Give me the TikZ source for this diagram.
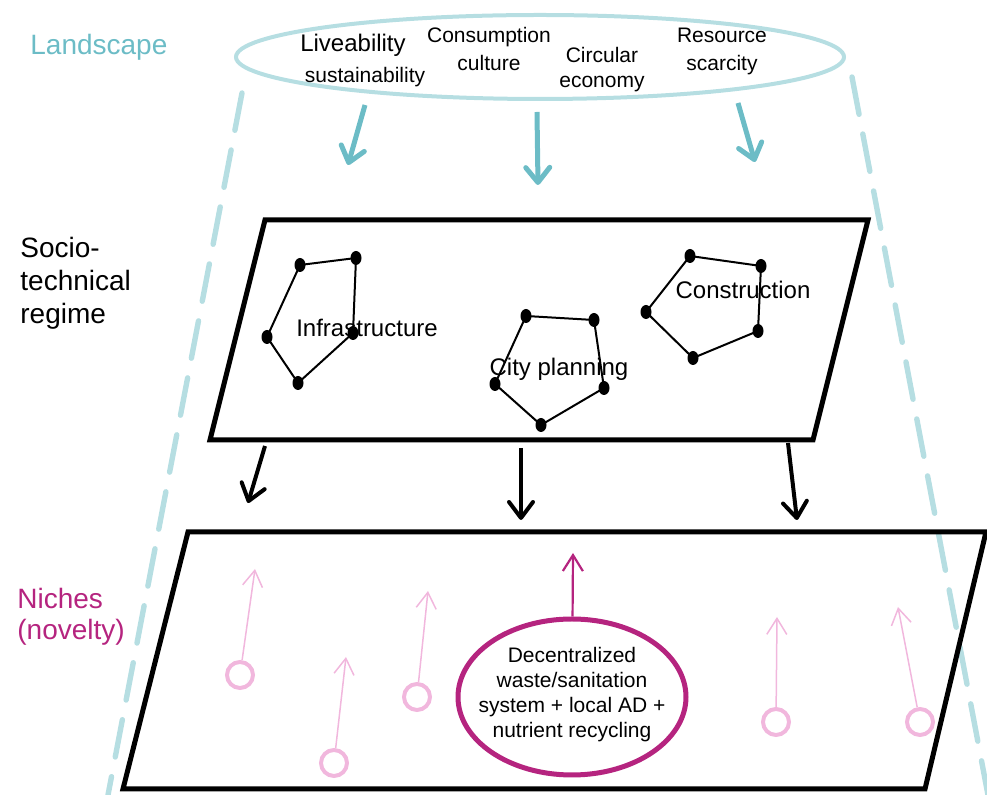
\documentclass[tikz,border=0pt]{standalone}
\usepackage{fontspec}
\setmainfont{Liberation Sans}
\usepackage{tikz}
\usetikzlibrary{arrows.meta, shapes.geometric}
\definecolor{Teal}     {HTML}{6CBCC6}
\definecolor{TealPale} {HTML}{B6DEE2}
\definecolor{Magenta}  {HTML}{B5247F}
\definecolor{Pink}     {HTML}{F1B7DD}

\begin{document}
\begin{tikzpicture}[x=0.5pt, y=-0.5pt,
  every node/.style={inner sep=0pt},
  plane/.style={line width=2.5pt, line join=miter},
  guide/.style={TealPale, line width=2.7pt, line cap=round,
                dash pattern=on 19pt off 10pt},
  down/.style={Teal, line width=2.5pt,
               -{Straight Barb[length=7.5pt, width=12pt, round]}},
  push/.style={line width=2pt,
               -{Straight Barb[length=8pt, width=12pt, round]}},
  rise/.style={Pink, line width=0.75pt,
               -{Straight Barb[length=8pt, width=10pt]}},
  vertex/.style={ellipse, fill, minimum width=5.5pt, minimum height=7pt},
  link/.style={line width=1pt},
  seed/.style={circle, draw=Pink, line width=2pt, minimum size=13pt},
  factor/.style={font=\fontsize{10.5}{14}\selectfont, align=center},
  actor/.style={font=\fontsize{12}{14}\selectfont},
  tier/.style={font=\fontsize{14}{16.5}\selectfont, align=left, anchor=west}]
  \useasboundingbox (0,0) rectangle (987,795);

  % Landscape: dashed guides and the ellipse of pressures
  \draw[guide] (242,93) -- (108,795);
  \draw[guide] (852,77) -- (988,795);
  \node[tier, text=Teal] (landscape) at (30,47) {Landscape};
  \node[ellipse, draw=TealPale, line width=2pt,
        minimum width=304pt, minimum height=42pt] (scape) at (540,57) {};
  \node[actor] (live) at (353,45) {Liveability};
  \node[factor] (sust) at (365,77) {sustainability};
  \node[factor] (cons) at (489,49) {Consumption\\culture};
  \node[factor, font=\fontsize{10.5}{12.5}\selectfont] (circ) at (602,70) {Circular\\economy};
  \node[factor] (res) at (722,51) {Resource\\scarcity};
  \coordinate (t1) at (365,105); \coordinate (h1) at (348,165);
  \coordinate (t2) at (537,112); \coordinate (h2) at (538,185);
  \coordinate (t3) at (738,103); \coordinate (h3) at (755,162);
  \draw[down] (t1) -- (h1);
  \draw[down] (t2) -- (h2);
  \draw[down] (t3) -- (h3);

  % Socio-technical regime
  \draw[plane] (265,220) -- (868,220) -- (813,440) -- (210,440) -- cycle;
  \node[tier] (regime) at (20,283) {Socio-\\technical\\regime};
  \node[vertex] (i1) at (300,265) {};
  \node[vertex] (i2) at (356,258) {};
  \node[vertex] (i3) at (353,333) {};
  \node[vertex] (i4) at (298,383) {};
  \node[vertex] (i5) at (267,337) {};
  \draw[link] (i1.center) -- (i2.center) -- (i3.center) -- (i4.center) -- (i5.center) -- cycle;
  \node[vertex] (c1) at (526,316) {};
  \node[vertex] (c2) at (594,320) {};
  \node[vertex] (c3) at (604,388) {};
  \node[vertex] (c4) at (541,425) {};
  \node[vertex] (c5) at (495,384) {};
  \draw[link] (c1.center) -- (c2.center) -- (c3.center) -- (c4.center) -- (c5.center) -- cycle;
  \node[vertex] (k1) at (690,256) {};
  \node[vertex] (k2) at (761,266) {};
  \node[vertex] (k3) at (758,331) {};
  \node[vertex] (k4) at (693,358) {};
  \node[vertex] (k5) at (646,312) {};
  \draw[link] (k1.center) -- (k2.center) -- (k3.center) -- (k4.center) -- (k5.center) -- cycle;
  \node[actor] (infra) at (367,328) {Infrastructure};
  \node[actor] (city) at (559,369) {City planning};
  \node[actor] (constr) at (743,290) {Construction};
  \coordinate (r1) at (265,446); \coordinate (n1) at (248,503);
  \coordinate (r2) at (521,448); \coordinate (n2) at (521,520);
  \coordinate (r3) at (788,443); \coordinate (n3) at (797,520);
  \draw[push] (r1) -- (n1);
  \draw[push] (r2) -- (n2);
  \draw[push] (r3) -- (n3);

  % Niches
  \draw[plane] (188,532) -- (986,532) -- (925,789) -- (123,789) -- cycle;
  \node[tier, text=Magenta, font=\fontsize{14}{15.5}\selectfont] (niche) at (17,617) {Niches\\(novelty)};
  \node[ellipse, draw=Magenta, line width=2.5pt,
        minimum width=114pt, minimum height=78pt] (waste) at (572,697) {};
  \node[factor, font=\fontsize{10.5}{12.5}\selectfont] (wastetext) at (572,695)
        {Decentralized\\waste/sanitation\\system + local AD +\\nutrient recycling};
  \coordinate (wtip) at (573,553);
  \draw[Magenta, line width=1.1pt, -{Straight Barb[length=8pt, width=10pt]}] (waste) -- (wtip);
  \node[seed] (s1) at (240,675) {}; \coordinate (s1tip) at (255,569);
  \node[seed] (s2) at (334,763) {}; \coordinate (s2tip) at (346,657);
  \node[seed] (s3) at (417,697) {}; \coordinate (s3tip) at (428,591);
  \node[seed] (s4) at (776,722) {}; \coordinate (s4tip) at (777,617);
  \node[seed] (s5) at (920,722) {}; \coordinate (s5tip) at (898,607);
  \draw[rise] (s1) -- (s1tip);
  \draw[rise] (s2) -- (s2tip);
  \draw[rise] (s3) -- (s3tip);
  \draw[rise] (s4) -- (s4tip);
  \draw[rise] (s5) -- (s5tip);
\end{tikzpicture}
\end{document}
